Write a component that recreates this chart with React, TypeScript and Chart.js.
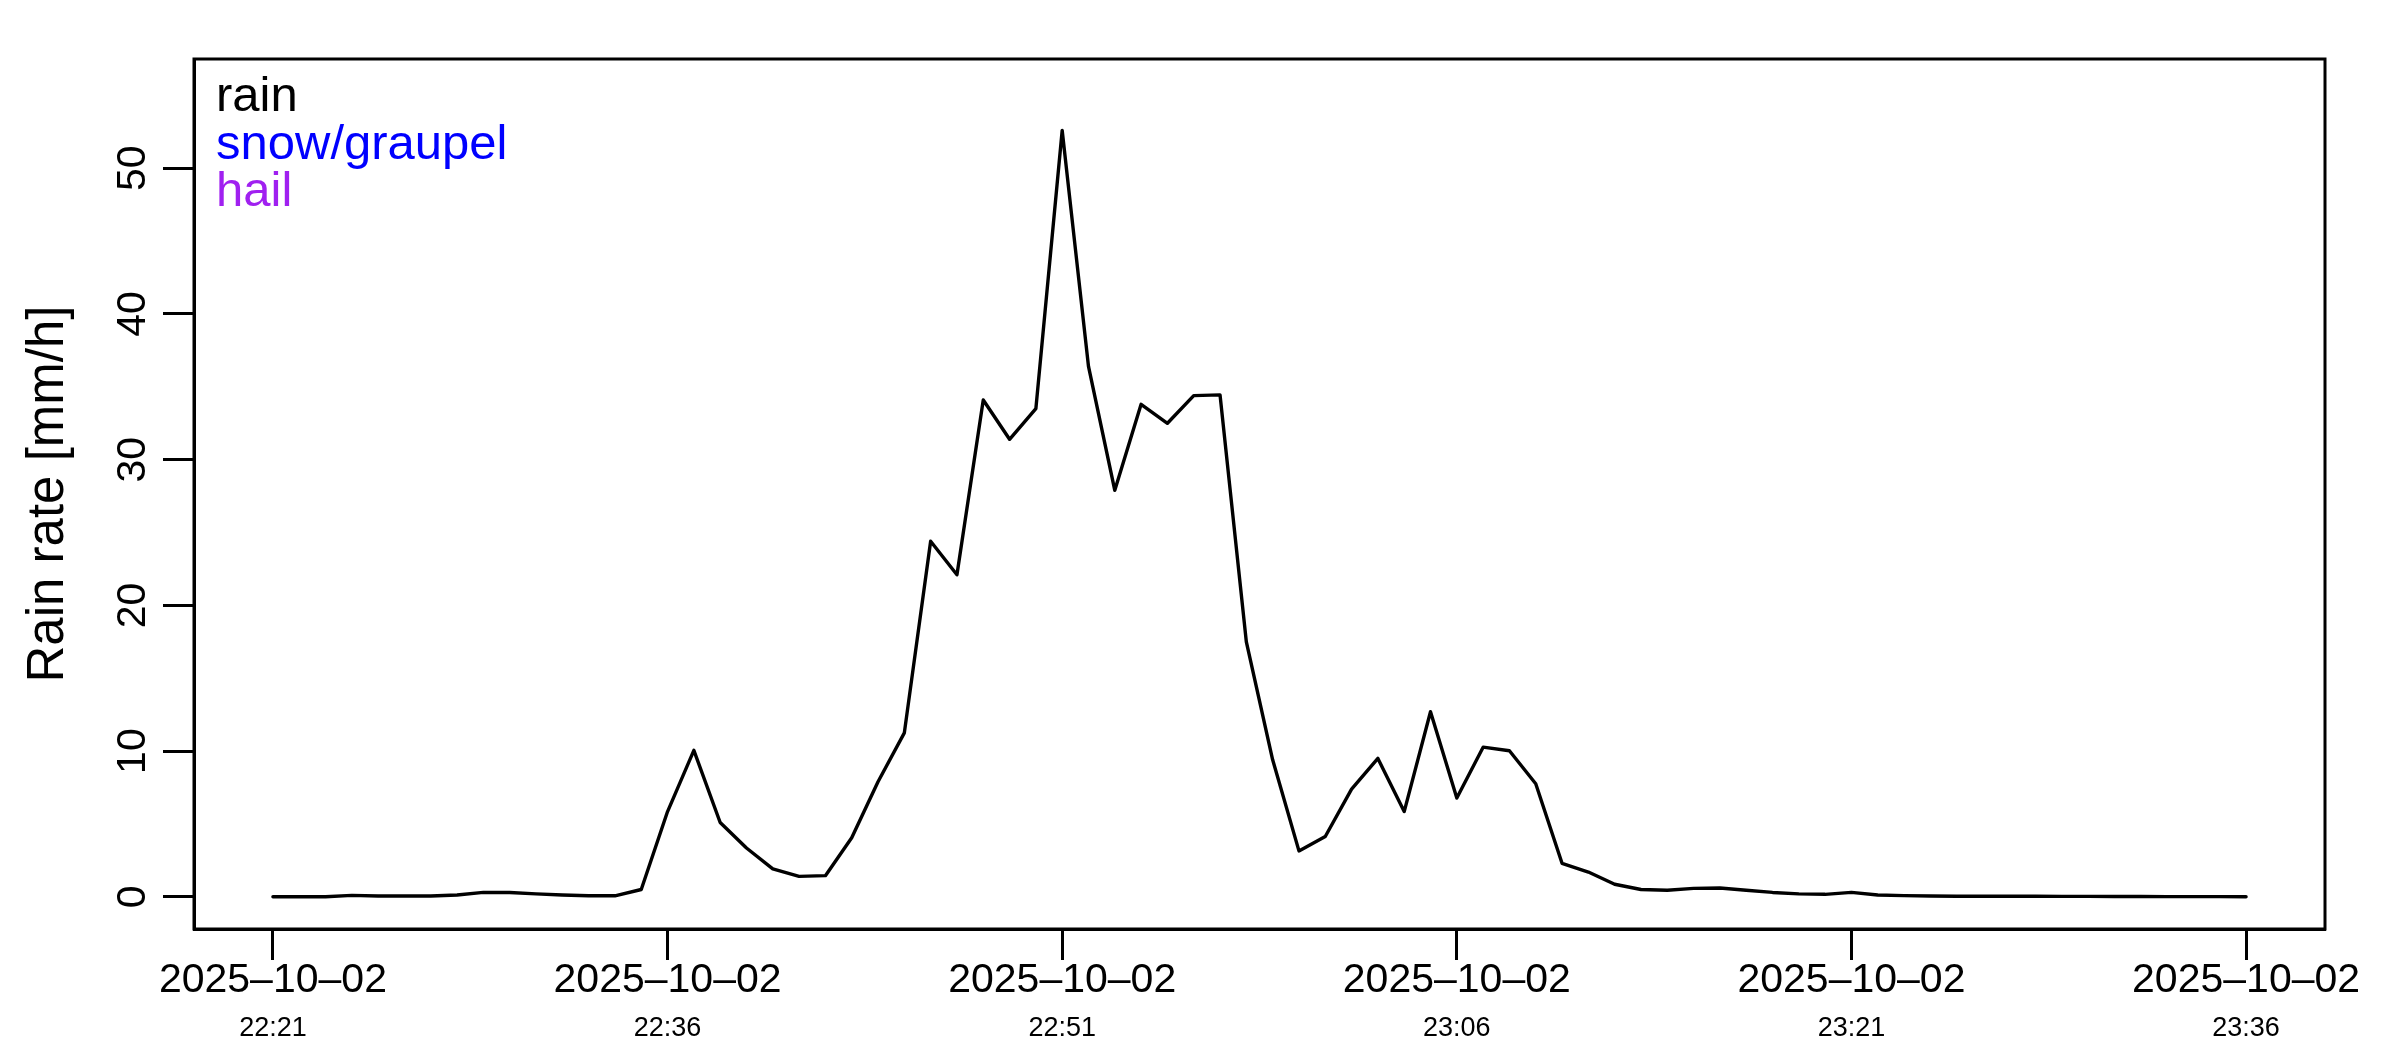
import React, { useEffect, useRef } from "react";
import { Chart, registerables } from "chart.js";

Chart.register(...registerables);

// ---- data ----
const times: string[] = [
  "22:21", "22:22", "22:23", "22:24", "22:25", "22:26", "22:27", "22:28", "22:29", "22:30",
  "22:31", "22:32", "22:33", "22:34", "22:35", "22:36", "22:37", "22:38", "22:39", "22:40",
  "22:41", "22:42", "22:43", "22:44", "22:45", "22:46", "22:47", "22:48", "22:49", "22:50",
  "22:51", "22:52", "22:53", "22:54", "22:55", "22:56", "22:57", "22:58", "22:59", "23:00",
  "23:01", "23:02", "23:03", "23:04", "23:05", "23:06", "23:07", "23:08", "23:09", "23:10",
  "23:11", "23:12", "23:13", "23:14", "23:15", "23:16", "23:17", "23:18", "23:19", "23:20",
  "23:21", "23:22", "23:23", "23:24", "23:25", "23:26", "23:27", "23:28", "23:29", "23:30",
  "23:31", "23:32", "23:33", "23:34", "23:35", "23:36",
];

const rainRate: number[] = [
  0.0, 0.0, 0.0, 0.1, 0.05, 0.05, 0.05, 0.12, 0.3, 0.3,
  0.2, 0.12, 0.07, 0.07, 0.5, 5.85, 10.05, 5.1, 3.35, 1.92,
  1.4, 1.45, 4.05, 7.9, 11.25, 24.4, 22.1, 34.1, 31.4, 33.5,
  52.6, 36.4, 27.9, 33.8, 32.5, 34.4, 34.45, 17.5, 9.4, 3.15,
  4.14, 7.39, 9.5, 5.85, 12.7, 6.78, 10.27, 10.02, 7.76, 2.3,
  1.7, 0.86, 0.5, 0.45, 0.58, 0.6, 0.45, 0.3, 0.2, 0.17,
  0.3, 0.12, 0.08, 0.05, 0.04, 0.04, 0.04, 0.04, 0.03, 0.03,
  0.02, 0.02, 0.01, 0.01, 0.01, 0.0,
];

const xTickTimes: string[] = ["22:21", "22:36", "22:51", "23:06", "23:21", "23:36"];
const xTickDates: string[] = ["2025-10-02", "2025-10-02", "2025-10-02", "2025-10-02", "2025-10-02", "2025-10-02"];
const yTicks: number[] = [0, 10, 20, 30, 40, 50];

const legendLabels: string[] = ["rain", "snow/graupel", "hail"];
const legendColors: string[] = ["#000000", "#0000FF", "#A020F0"];

const yTitle = "Rain rate [mm/h]";

const FONT = '"Liberation Sans", Arial, Helvetica, sans-serif';

const toMin = (t: string) => {
  const [h, m] = t.split(":").map(Number);
  const [h0, m0] = times[0].split(":").map(Number);
  return h * 60 + m - (h0 * 60 + m0);
};

export default function App() {
  const ref = useRef<HTMLCanvasElement | null>(null);

  useEffect(() => {
    if (!ref.current) return;
    const xTickVals = xTickTimes.map(toMin);

    const decor = {
      id: "rdecor",
      afterDraw(chart: any) {
        const ctx = chart.ctx as CanvasRenderingContext2D;
        const ca = chart.chartArea;
        const xs = chart.scales.x;
        const ys = chart.scales.y;
        ctx.save();
        // box
        ctx.strokeStyle = "#000";
        ctx.lineWidth = 3;
        ctx.strokeRect(ca.left, ca.top, ca.right - ca.left, ca.bottom - ca.top);

        // y tick labels (rotated)
        ctx.fillStyle = "#000";
        ctx.font = `41px ${FONT}`;
        ctx.textAlign = "center";
        ctx.textBaseline = "alphabetic";
        yTicks.forEach((v) => {
          const py = ys.getPixelForValue(v);
          ctx.save();
          ctx.translate(ca.left - 49, py);
          ctx.rotate(-Math.PI / 2);
          ctx.fillText(String(v), 0, 0);
          ctx.restore();
        });

        // x tick labels
        xTickVals.forEach((v, i) => {
          const px = xs.getPixelForValue(v);
          ctx.font = `41px ${FONT}`;
          ctx.fillText(xTickDates[i].replace(/-/g, "\u2013"), px, ca.bottom + 63);
          ctx.font = `27px ${FONT}`;
          ctx.fillText(xTickTimes[i], px, ca.bottom + 107);
        });

        // y title
        ctx.font = `51px ${FONT}`;
        ctx.save();
        ctx.translate(63, (ca.top + ca.bottom) / 2);
        ctx.rotate(-Math.PI / 2);
        ctx.fillText(yTitle, 0, 0);
        ctx.restore();

        // legend
        ctx.font = `49px ${FONT}`;
        ctx.textAlign = "left";
        legendLabels.forEach((l, i) => {
          ctx.fillStyle = legendColors[i];
          ctx.fillText(l, ca.left + 22, ca.top + 52 + i * 47.5);
        });
        ctx.restore();
      },
    };

    const chart = new Chart(ref.current, {
      type: "line",
      data: {
        datasets: [
          {
            label: "rain",
            data: times.map((t, i) => ({ x: toMin(t), y: rainRate[i] })),
            borderColor: "#000",
            borderWidth: 3.4,
            borderJoinStyle: "round",
            borderCapStyle: "round",
            pointRadius: 0,
            tension: 0,
            fill: false,
          },
        ],
      },
      options: {
        animation: false,
        responsive: false,
        devicePixelRatio: 1,
        layout: { padding: { left: 0, right: 75, top: 59, bottom: 0 } },
        plugins: { legend: { display: false }, tooltip: { enabled: false } },
        scales: {
          x: {
            type: "linear",
            min: -3,
            max: 78,
            afterBuildTicks: (s: any) => {
              s.ticks = xTickVals.map((v) => ({ value: v }));
            },
            afterFit: (s: any) => {
              s.height = 121;
            },
            ticks: { display: false },
            grid: {
              drawOnChartArea: false,
              drawTicks: true,
              tickLength: 31,
              tickWidth: 3,
              tickColor: "#000",
            },
            border: { display: true, color: "#000", width: 3 },
          },
          y: {
            type: "linear",
            min: -2.21,
            max: 57.5,
            afterBuildTicks: (s: any) => {
              s.ticks = yTicks.map((v) => ({ value: v }));
            },
            afterFit: (s: any) => {
              s.width = 194;
            },
            ticks: { display: false },
            grid: {
              drawOnChartArea: false,
              drawTicks: true,
              tickLength: 31,
              tickWidth: 3,
              tickColor: "#000",
            },
            border: { display: true, color: "#000", width: 3 },
          },
        },
      },
      plugins: [decor],
    });
    return () => chart.destroy();
  }, []);

  return (
    <div style={{ position: "fixed", left: 0, top: 0, width: 2400, height: 1050, background: "#fff" }}>
      <canvas ref={ref} width={2400} height={1050} style={{ width: 2400, height: 1050 }} />
    </div>
  );
}
